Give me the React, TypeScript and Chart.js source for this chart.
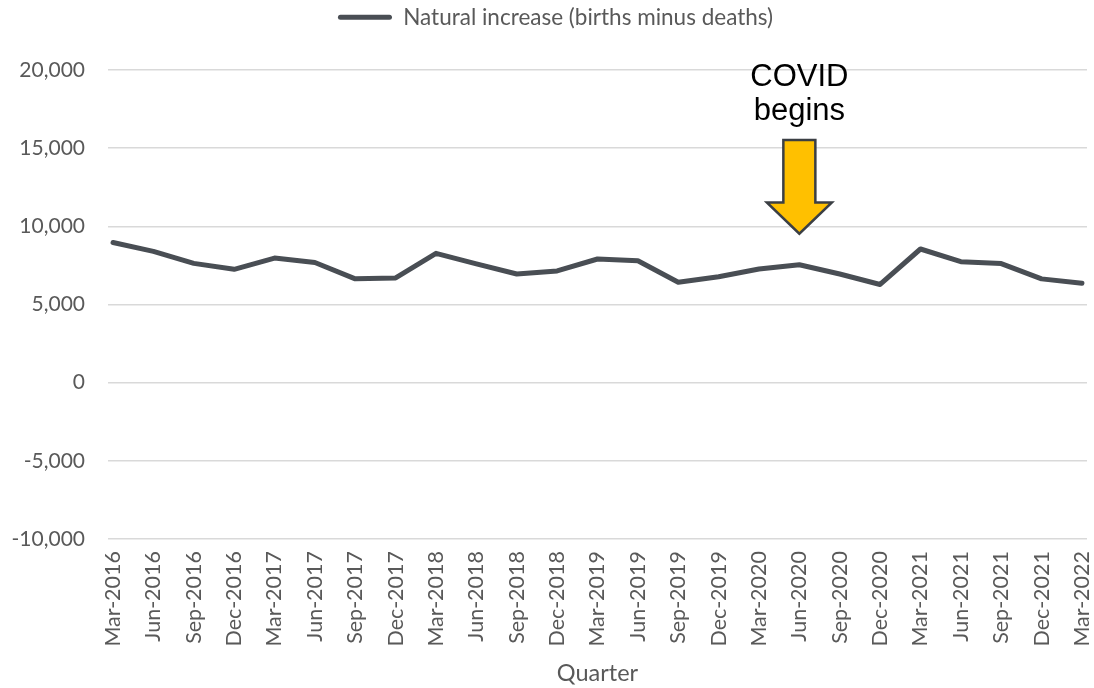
import React, { useEffect, useRef } from "react";
import { Chart, registerables } from "chart.js";

Chart.register(...registerables);

const quarters = [
  "Mar-2016", "Jun-2016", "Sep-2016", "Dec-2016",
  "Mar-2017", "Jun-2017", "Sep-2017", "Dec-2017",
  "Mar-2018", "Jun-2018", "Sep-2018", "Dec-2018",
  "Mar-2019", "Jun-2019", "Sep-2019", "Dec-2019",
  "Mar-2020", "Jun-2020", "Sep-2020", "Dec-2020",
  "Mar-2021", "Jun-2021", "Sep-2021", "Dec-2021",
  "Mar-2022",
];

const naturalIncrease = [
  8970, 8400, 7630, 7250, 7970, 7690, 6640, 6700, 8270, 7600, 6950, 7150,
  7910, 7800, 6420, 6780, 7270, 7545, 6950, 6280, 8550, 7740, 7620, 6640,
  6360,
];

const yTicks = [-10000, -5000, 0, 5000, 10000, 15000, 20000];

const seriesLabel = "Natural increase (births minus deaths)";
const annotationLines = ["COVID", "begins"];
const annotationIndex = 17;
const arrowTopValue = 15530;
const arrowHeadBaseValue = 11530;
const arrowTipValue = 9530;
const textBaselineValues = [19000, 16820];

const LINE_COLOR = "#494e54";
const TICK_COLOR = "#595959";
const FONT = "Lato, 'Open Sans', sans-serif";

const covidPlugin = {
  id: "covidAnnotation",
  afterDatasetsDraw(chart: any) {
    const { ctx, scales } = chart;
    const xs = scales.x;
    const ys = scales.y;
    const cx = xs.getPixelForValue(annotationIndex);
    const top = ys.getPixelForValue(arrowTopValue);
    const base = ys.getPixelForValue(arrowHeadBaseValue);
    const tip = ys.getPixelForValue(arrowTipValue);
    const sw = 16;
    const hw = 32.5;
    ctx.save();
    ctx.beginPath();
    ctx.moveTo(cx - sw, top);
    ctx.lineTo(cx + sw, top);
    ctx.lineTo(cx + sw, base);
    ctx.lineTo(cx + hw, base);
    ctx.lineTo(cx, tip);
    ctx.lineTo(cx - hw, base);
    ctx.lineTo(cx - sw, base);
    ctx.closePath();
    ctx.fillStyle = "#FFC000";
    ctx.fill();
    ctx.lineWidth = 2.5;
    ctx.strokeStyle = "#3b3f44";
    ctx.lineJoin = "miter";
    ctx.stroke();

    ctx.fillStyle = "#000000";
    ctx.font = "31px 'Liberation Sans', Arial, sans-serif";
    ctx.textAlign = "center";
    ctx.textBaseline = "alphabetic";
    annotationLines.forEach((t, i) => {
      ctx.fillText(t, cx, ys.getPixelForValue(textBaselineValues[i]));
    });
    ctx.restore();
  },
};

const legendHeightPlugin = {
  id: "legendHeight",
  beforeInit(chart: any) {
    const legend = chart.legend;
    if (legend) {
      const origFit = legend.fit;
      legend.fit = function () {
        origFit.call(this);
        this.height = 70;
      };
      const origDraw = legend.draw;
      legend.draw = function (...args: any[]) {
        const c = this.ctx || chart.ctx;
        c.save();
        c.translate(12, 1);
        origDraw.apply(this, args);
        c.restore();
      };
    }
  },
};

export default function App() {
  const canvasRef = useRef<HTMLCanvasElement | null>(null);

  useEffect(() => {
    if (!canvasRef.current) return;
    const chart = new Chart(canvasRef.current, {
      type: "line",
      data: {
        datasets: [
          {
            label: seriesLabel,
            data: naturalIncrease.map((v, i) => ({ x: i, y: v })),
            borderColor: LINE_COLOR,
            backgroundColor: LINE_COLOR,
            borderWidth: 5,
            pointRadius: 0,
            pointHoverRadius: 0,
            tension: 0,
            borderCapStyle: "round",
            borderJoinStyle: "round",
          },
        ],
      },
      options: {
        animation: false,
        responsive: false,
        maintainAspectRatio: false,
        layout: { padding: { top: 0, right: 7, left: 0, bottom: 0 } },
        plugins: {
          tooltip: { enabled: false },
          legend: {
            display: true,
            position: "top",
            labels: {
              color: TICK_COLOR,
              font: { family: FONT, size: 22.5 },
              boxWidth: 54,
              boxHeight: 5,
              padding: 5,
              generateLabels: () => [
                {
                  text: seriesLabel,
                  fillStyle: LINE_COLOR,
                  strokeStyle: LINE_COLOR,
                  lineWidth: 0,
                  borderRadius: 2.5,
                  fontColor: TICK_COLOR,
                  datasetIndex: 0,
                  hidden: false,
                },
              ],
            },
          },
        },
        scales: {
          x: {
            type: "linear",
            min: -0.125,
            max: quarters.length - 1 + 0.125,
            afterBuildTicks: (scale: any) => {
              scale.ticks = quarters.map((_, i) => ({ value: i }));
            },
            afterFit: (scale: any) => {
              scale.height = 149;
              scale.paddingLeft = 0;
              scale.paddingRight = 0;
            },
            grid: { display: false },
            border: { display: false },
            ticks: {
              autoSkip: false,
              minRotation: 90,
              maxRotation: 90,
              padding: 4,
              color: TICK_COLOR,
              font: { family: FONT, size: 21.5 },
              callback: (v: any) => quarters[v] ?? "",
            },
            title: {
              display: true,
              text: "Quarter",
              color: TICK_COLOR,
              font: { family: FONT, size: 23.5 },
              padding: { top: 0, bottom: 0 },
            },
          },
          y: {
            min: -10000,
            max: 20000,
            afterBuildTicks: (scale: any) => {
              scale.ticks = yTicks.map((v) => ({ value: v }));
            },
            afterFit: (scale: any) => {
              scale.width = 108;
              scale.paddingTop = 0;
              scale.paddingBottom = 0;
            },
            grid: {
              color: "#d9d9d9",
              lineWidth: 1.5,
              drawTicks: false,
            },
            border: { display: false },
            ticks: {
              padding: 23,
              color: TICK_COLOR,
              font: { family: FONT, size: 21 },
              callback: (v: any) => Number(v).toLocaleString("en-US"),
            },
          },
        },
      },
      plugins: [covidPlugin, legendHeightPlugin],
    } as any);
    return () => chart.destroy();
  }, []);

  return (
    <div style={{ position: "fixed", left: 0, top: 0, width: 1094, height: 688, background: "#ffffff" }}>
      <canvas ref={canvasRef} width={1094} height={688} style={{ width: 1094, height: 688 }} />
    </div>
  );
}
